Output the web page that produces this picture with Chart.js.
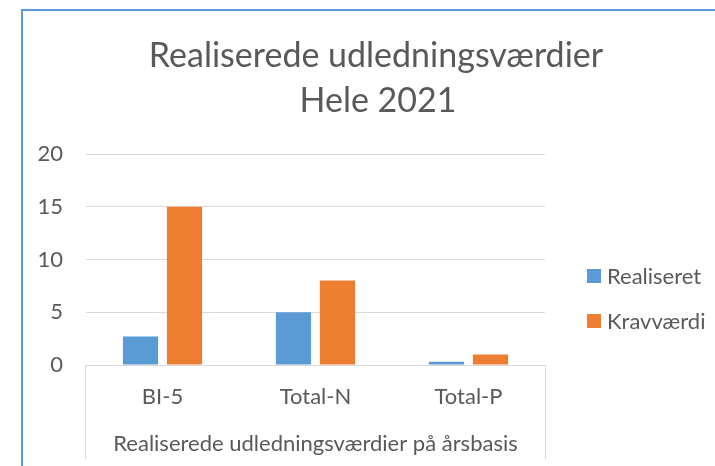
<!DOCTYPE html>
<html>
<head>
<meta charset="utf-8">
<script src="https://cdn.jsdelivr.net/npm/chart.js@4/dist/chart.umd.min.js"></script>
<style>
  html, body { margin: 0; padding: 0; background: #fff; overflow: hidden; }
  .wrap { position: relative; width: 715px; height: 466px; overflow: hidden; }
  .frame { position: absolute; left: 21px; top: 9px; width: 900px; height: 700px;
           border-left: 2px solid #5B9BD5; border-top: 2px solid #5B9BD5; }
  canvas { position: absolute; left: 0; top: 0; }
  .legend { position: absolute; left: 587px; top: 0; font-family: Lato, sans-serif;
            font-size: 22px; color: #595959; }
  .legend .item { position: absolute; left: 0; white-space: nowrap; height: 24px; line-height: 24px; }
  .legend .box { position: absolute; left: 0; top: 5px; width: 14px; height: 14px; }
  .legend .txt { position: absolute; left: 20px; top: 0; }
</style>
</head>
<body>
<div class="wrap">
  <div class="frame"></div>
  <canvas id="chart" width="715" height="466"></canvas>
  <div class="legend" id="legend"></div>
</div>
<script>
// data
const categories = ['BI-5', 'Total-N', 'Total-P'];
const realiseret = [2.7, 5, 0.3];
const kravvaerdi = [15, 8, 1];
const seriesNames = ['Realiseret', 'Kravværdi'];
const seriesColors = ['#5B9BD5', '#ED7D31'];
const yMax = 20;
const yStep = 5;
const titleLines = ['Realiserede udledningsværdier', 'Hele 2021'];
const xTitle = 'Realiserede udledningsværdier på årsbasis';

const textColor = '#595959';
const gridColor = '#D9D9D9';

// title + category box drawn on the canvas
const extras = {
  id: 'extras',
  afterDraw(chart) {
    const c = chart.ctx;
    const area = chart.chartArea;
    c.save();
    c.fillStyle = textColor;
    c.textAlign = 'center';
    c.textBaseline = 'alphabetic';
    c.font = '34px Lato';
    c.fillText(titleLines[0], 376, 67);
    c.fillText(titleLines[1], 378, 112);

    c.strokeStyle = gridColor;
    c.lineWidth = 1;
    c.beginPath();
    c.moveTo(Math.round(area.left) - 0.5, area.bottom);
    c.lineTo(Math.round(area.left) - 0.5, 459);
    c.moveTo(Math.round(area.right) + 0.5, area.bottom);
    c.lineTo(Math.round(area.right) + 0.5, 459);
    c.stroke();
    c.restore();
  }
};

const ctx = document.getElementById('chart').getContext('2d');
new Chart(ctx, {
  type: 'bar',
  data: {
    labels: categories,
    datasets: [
      { label: seriesNames[0], data: realiseret, backgroundColor: seriesColors[0] },
      { label: seriesNames[1], data: kravvaerdi, backgroundColor: seriesColors[1] },
    ],
  },
  options: {
    responsive: false,
    animation: false,
    devicePixelRatio: 1,
    categoryPercentage: 0.575,
    barPercentage: 0.8,
    layout: { padding: { left: 21, right: 170, top: 154, bottom: 0 } },
    plugins: {
      legend: { display: false },
      title: { display: false },
      tooltip: { enabled: false },
    },
    scales: {
      x: {
        grid: { display: false, drawTicks: false },
        border: { display: true, color: gridColor, width: 1 },
        ticks: { color: textColor, font: { family: 'Lato', size: 22 }, padding: 19 },
        title: {
          display: true,
          text: xTitle,
          color: textColor,
          font: { family: 'Lato', size: 22 },
          padding: { top: 0, bottom: 9 },
        },
        afterFit(axis) { axis.height = 101; },
      },
      y: {
        min: 0,
        max: yMax,
        ticks: { stepSize: yStep, color: textColor, font: { family: 'Lato', size: 22 }, padding: 23 },
        grid: { color: gridColor, lineWidth: 1, drawTicks: false },
        border: { display: false },
        afterFit(axis) { axis.width = 65; },
      },
    },
  },
  plugins: [extras],
});

// legend
const legendEl = document.getElementById('legend');
const legendY = [276, 321];
seriesNames.forEach((name, i) => {
  const item = document.createElement('div');
  item.className = 'item';
  item.style.top = (legendY[i] - 12) + 'px';
  item.innerHTML = '<span class="box" style="background:' + seriesColors[i] + '"></span><span class="txt">' + name + '</span>';
  legendEl.appendChild(item);
});
</script>
</body>
</html>
